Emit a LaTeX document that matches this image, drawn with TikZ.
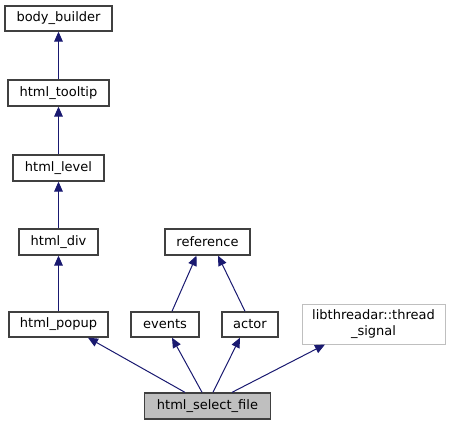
\documentclass[tikz,border=0pt]{standalone}
\usepackage{fontspec}
\setmainfont{DejaVu Sans}
\usetikzlibrary{arrows.meta}

\definecolor{edgeblue}{HTML}{191970}
\definecolor{boxgray}{HTML}{404040}
\definecolor{lightgray}{HTML}{BFBFBF}

\tikzset{
  cls/.style={draw=boxgray, line width=1pt, rectangle, inner sep=0pt,
    font=\fontsize{9.75}{11.5}\selectfont, align=center},
  edge/.style={draw=edgeblue, line width=0.75pt,
    {Triangle[length=7.5pt,width=6.5pt]}-}
}

\begin{document}
\begin{tikzpicture}[x=0.75pt,y=-0.75pt]
\useasboundingbox (0,0) rectangle (450,425);

\node[cls, minimum width=80.25pt, minimum height=18.75pt] (bb) at (58.5,18.5) {body\_builder};
\node[cls, minimum width=75.75pt, minimum height=19.5pt] (tip) at (58.5,93) {html\_tooltip};
\node[cls, minimum width=68.25pt, minimum height=19.5pt] (lvl) at (58.5,168) {html\_level};
\node[cls, minimum width=59.25pt, minimum height=19.5pt] (div) at (58.5,242) {html\_div};
\node[cls, minimum width=74.25pt, minimum height=18.75pt] (popup) at (58.5,324.5) {html\_popup};
\node[cls, minimum width=63.75pt, minimum height=19.5pt] (ref) at (207.5,242) {reference};
\node[cls, minimum width=51pt, minimum height=18.75pt] (events) at (165,324.5) {events};
\node[cls, minimum width=42pt, minimum height=18.75pt] (actor) at (250,324.5) {actor};
\node[cls, draw=lightgray, line width=0.75pt, minimum width=107.25pt, minimum height=30pt] (sig) at (373.5,324) {libthreadar::thread\\\_signal};
\node[cls, fill=lightgray, minimum width=94.5pt, minimum height=19.5pt] (sel) at (207.5,406) {html\_select\_file};

\draw[edge] (bb) -- (tip);
\draw[edge] (tip) -- (lvl);
\draw[edge] (lvl) -- (div);
\draw[edge] (div) -- (popup);
\draw[edge] ([xshift=-8.25pt]ref.south) -- ([xshift=5.25pt]events.north);
\draw[edge] ([xshift=7.9pt]ref.south) -- ([xshift=-3.75pt]actor.north);

\draw[edge] ([xshift=22.1pt]popup.south) -- ([xshift=-16.9pt]sel.north);
\draw[edge] ([xshift=5.25pt]events.south) -- ([xshift=-4.1pt]sel.north);
\draw[edge] ([xshift=-7.5pt]actor.south) -- ([xshift=4.1pt]sel.north);
\draw[edge] ([xshift=-36.4pt]sig.south) -- ([xshift=18.4pt]sel.north);

\end{tikzpicture}
\end{document}
